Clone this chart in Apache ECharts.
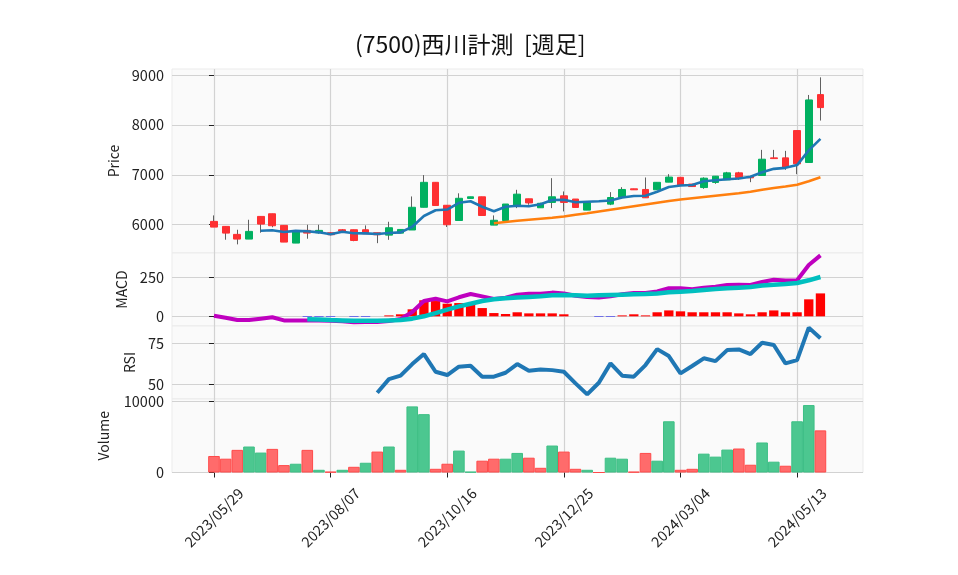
<!DOCTYPE html>
<html><head><meta charset="utf-8">
<script src="https://cdn.jsdelivr.net/npm/echarts@6/dist/echarts.min.js"></script>
<style>html,body{margin:0;padding:0;background:#fff}#c{width:958px;height:575px}</style>
</head><body><div id="c"></div>
<script>
const dates = ['2023/05/29','2023/06/05','2023/06/12','2023/06/19','2023/06/26','2023/07/03','2023/07/10','2023/07/17','2023/07/24','2023/07/31',
'2023/08/07','2023/08/14','2023/08/21','2023/08/28','2023/09/04','2023/09/11','2023/09/18','2023/09/25','2023/10/02','2023/10/09',
'2023/10/16','2023/10/23','2023/10/30','2023/11/06','2023/11/13','2023/11/20','2023/11/27','2023/12/04','2023/12/11','2023/12/18',
'2023/12/25','2024/01/01','2024/01/08','2024/01/15','2024/01/22','2024/01/29','2024/02/05','2024/02/12','2024/02/19','2024/02/26',
'2024/03/04','2024/03/11','2024/03/18','2024/03/25','2024/04/01','2024/04/08','2024/04/15','2024/04/22','2024/04/29','2024/05/06',
'2024/05/13','2024/05/20','2024/05/27'];
const opens  = [6067,5967,5807,5713,6167,6220,5987,5633,5887,5840,5840,5900,5900,5900,5840,5792,5832,5895,6350,6850,6390,6085,6527,6560,5993,6085,6385,6520,6340,6447,6580,6515,6293,null,6413,6546,6720,6707,6700,6853,6950,6815,6745,6847,6900,7040,6965,6987,7340,7340,7887,7247,8607];
const closes = [5953,5833,5713,5867,6013,5980,5653,5873,5833,5887,5800,5873,5685,5819,5799,5940,5906,6350,6850,6385,6000,6530,6560,6185,6090,6415,6613,6437,6430,6560,6447,6346,6440,null,6546,6707,6700,6540,6850,6955,6793,6765,6933,6973,7040,6945,6940,7313,7325,7153,7220,8500,8347];
const highs  = [6187,5967,5900,6100,6167,6220,5987,5873,6000,6000,5850,5910,5900,5987,5840,6060,5906,6567,6995,6850,6390,6630,6560,6560,6187,6415,6700,6520,6440,6933,6667,6515,6440,null,6653,6753,6720,6947,6850,7013,6950,6815,6950,6973,7060,7060,6965,7500,7500,7480,7887,8600,8953];
const lows   = [5953,5700,5607,5713,5840,5950,5653,5633,5720,5820,5790,5860,5670,5819,5631,5698,5832,5895,6350,6385,5955,6085,6527,6185,5993,6085,6333,6400,6340,6333,6267,6346,6293,null,6393,6546,6700,6540,6700,6853,6793,6765,6720,6820,6900,6900,6853,6987,7320,7100,7013,7247,8087];
const volumes = [2320,1940,3180,3650,2800,3320,1040,1230,3180,380,100,380,800,1370,2940,3650,380,9290,8200,520,1230,3080,100,1660,1940,1940,2750,2080,660,3790,2940,520,380,0,2080,1940,100,2750,1660,7200,380,520,2650,2230,3220,3370,1090,4220,1520,950,7200,9480,5920];
const ma5 = [null,null,null,null,5880,5890,5855,5878,5870,5848,5810,5860,5830,5828,5815,5835,5848,5960,6175,6290,6305,6440,6470,6360,6270,6360,6380,6372,6410,6495,6500,6450,6460,6470,6485,6545,6575,6580,6660,6755,6785,6795,6870,6890,6910,6925,6960,7050,7120,7140,7195,7490,7720];
const ma25 = [null,null,null,null,null,null,null,null,null,null,null,null,null,null,null,null,null,null,null,null,null,null,null,null,6030,6055,6080,6100,6120,6140,6165,6200,6230,6265,6300,6335,6370,6405,6440,6475,6505,6530,6555,6580,6605,6630,6660,6700,6735,6765,6800,6870,6950];
const macdLine = [4,-9,-24,-24,-15,-6,-26,-26,-26,-26,-28,-32,-38,-36,-36,-30,-17,28,98,113,96,122,143,128,111,120,139,145,145,152,147,132,124,120,128,141,150,150,160,180,180,173,184,190,201,203,201,220,235,229,231,329,391];
const signalLine = [null,null,null,null,null,null,null,null,-19,-21,-24,-26,-28,-28,-28,-26,-24,-15,0,21,43,64,81,98,109,116,120,124,128,135,137,135,132,135,137,139,141,143,147,154,158,162,169,175,180,184,188,197,203,207,214,231,252];
const macdHist = [null,null,null,null,null,null,null,null,-3,-3,-3,0,-3,-3,0,6,13,45,103,98,81,85,85,53,21,15,26,19,19,19,13,0,0,-3,-3,6,13,6,26,38,32,26,26,26,26,19,13,26,38,26,26,109,147];
const rsi = [null,null,null,null,null,null,null,null,null,null,null,null,null,null,44.7,53.0,55.1,62.2,68.3,57.5,55.5,60.6,61.2,54.5,54.5,56.9,62.2,58.1,58.9,58.5,57.5,50.4,43.7,50.8,62.6,55.1,54.5,61.6,71.3,67.1,56.5,61.0,65.7,64.0,70.7,71.1,68.3,75.2,73.8,62.6,64.6,84.4,77.9];
const xTickIdx = [0,10,20,30,40,50];
const priceTicks = [6000,7000,8000,9000];
const macdTicks = [0,250];
const rsiTicks = [50,75];
const volTicks = [0,10000];
const titleText = '(7500)西川計測  [週足]';

const FONT = "'Noto Sans CJK JP', 'Noto Sans', sans-serif";
const GRIDC = '#d2d2d2';
const UP = '#00b060', DOWN = '#fe3032';
const X_MIN = -3.6, X_MAX = 55.65;
const L = 172, W = 691;

const idx = dates.map((d,i)=>i);
const valid = idx.filter(i => opens[i] != null);
const pts = arr => idx.filter(i => arr[i] != null).map(i => [i, arr[i]]);

function xAxisDef(g){
  return {type:'value', gridIndex:g, min:X_MIN, max:X_MAX,
    axisLine:{show:false},
    axisTick:{show:g===3, customValues:xTickIdx, length:5, lineStyle:{color:'#222'}},
    axisLabel:{show:g===3, customValues:xTickIdx, formatter:v=>dates[v], rotate:45, align:'center', verticalAlign:'middle',
      margin:45, fontSize:14.5, color:'#222', fontFamily:FONT},
    splitLine:{show:true, lineStyle:{color:GRIDC, width:1.2}}};
}
function yAxisDef(g, min, max, ticks, name, gap){
  return {type:'value', gridIndex:g, min:min, max:max, name:name, nameLocation:'middle', nameGap:gap,
    nameTextStyle:{fontSize:14, color:'#222', fontFamily:FONT},
    axisLine:{show:false},
    axisTick:{show:true, customValues:ticks, length:5, lineStyle:{color:'#222'}},
    axisLabel:{customValues:ticks, formatter:v=>String(v), margin:8, fontSize:14.5, color:'#222', fontFamily:FONT},
    splitLine:{show:true, lineStyle:{color:GRIDC, width:1.2}}};
}

const option = {
  animation:false,
  backgroundColor:'#ffffff',
  title:{text:titleText, left:350, top:28, textStyle:{fontSize:23, fontWeight:'normal', color:'#111', fontFamily:FONT}},
  grid:[
    {left:L, top:69, width:W, height:184, show:true, backgroundColor:'#fafafa', borderColor:'#ebebeb', borderWidth:1},
    {left:L, top:253, width:W, height:73, show:true, backgroundColor:'#fafafa', borderColor:'#ebebeb', borderWidth:1},
    {left:L, top:326, width:W, height:73, show:true, backgroundColor:'#fafafa', borderColor:'#ebebeb', borderWidth:1},
    {left:L, top:399, width:W, height:73.5, show:true, backgroundColor:'#fafafa', borderColor:'#ebebeb', borderWidth:1}
  ],
  xAxis:[xAxisDef(0), xAxisDef(1), xAxisDef(2), xAxisDef(3)],
  yAxis:[
    yAxisDef(0, 5434, 9120, priceTicks, 'Price', 50),
    yAxisDef(1, -62, 406, macdTicks, 'MACD', 42),
    yAxisDef(2, 40.9, 85.4, rsiTicks, 'RSI', 34),
    yAxisDef(3, 0, 10330, volTicks, 'Volume', 61)
  ],
  series:[
    {type:'candlestick', xAxisIndex:0, yAxisIndex:0, barWidth:1.2, z:2,
      encode:{x:0, y:[1,2,3,4]},
      itemStyle:{color:'#606060', color0:'#606060', borderColor:'#606060', borderColor0:'#606060', borderWidth:1},
      data: valid.map(i => [i, opens[i], closes[i], lows[i], highs[i]])},
    {type:'candlestick', xAxisIndex:0, yAxisIndex:0, barWidth:7.3, z:3,
      encode:{x:0, y:[1,2,3,4]},
      itemStyle:{color:UP, color0:DOWN, borderColor:UP, borderColor0:DOWN, borderWidth:1},
      data: valid.map(i => [i, opens[i], closes[i], Math.min(opens[i],closes[i]), Math.max(opens[i],closes[i])])},
    {type:'line', xAxisIndex:0, yAxisIndex:0, data:pts(ma5), showSymbol:false, z:4,
      lineStyle:{color:'#1f77b4', width:2.6}, itemStyle:{color:'#1f77b4'}},
    {type:'line', xAxisIndex:0, yAxisIndex:0, data:pts(ma25), showSymbol:false, z:4,
      lineStyle:{color:'#ff7f0e', width:2.6}, itemStyle:{color:'#ff7f0e'}},
    {type:'bar', xAxisIndex:1, yAxisIndex:1, barWidth:9.3, z:2,
      data: idx.filter(i => macdHist[i] != null).map(i => ({value:[i, macdHist[i]], itemStyle:{color: macdHist[i] >= 0 ? '#ff0000' : '#0000ff'}}))},
    {type:'line', xAxisIndex:1, yAxisIndex:1, data:pts(macdLine), showSymbol:false, z:4,
      lineStyle:{color:'#bf00bf', width:4}, itemStyle:{color:'#bf00bf'}},
    {type:'line', xAxisIndex:1, yAxisIndex:1, data:pts(signalLine), showSymbol:false, z:5,
      lineStyle:{color:'#00bfbf', width:4.5}, itemStyle:{color:'#00bfbf'}},
    {type:'line', xAxisIndex:2, yAxisIndex:2, data:pts(rsi), showSymbol:false, z:4,
      lineStyle:{color:'#1f77b4', width:4}, itemStyle:{color:'#1f77b4'}},
    {type:'bar', xAxisIndex:3, yAxisIndex:3, barWidth:11.6, z:3,
      data: idx.map(i => {
        let prev = null;
        for (let j = i-1; j >= 0; j--) { if (closes[j] != null) { prev = closes[j]; break; } }
        const up = closes[i] != null && prev != null && closes[i] >= prev;
        return {value:[i, volumes[i]], itemStyle:{color: up ? '#4cc790' : '#ff6b6b', borderColor: up ? '#3dbf85' : '#ff4a4a', borderWidth:1}};
      })}
  ]
};
const chart = echarts.init(document.getElementById('c'));
chart.setOption(option);
</script>
</body></html>
